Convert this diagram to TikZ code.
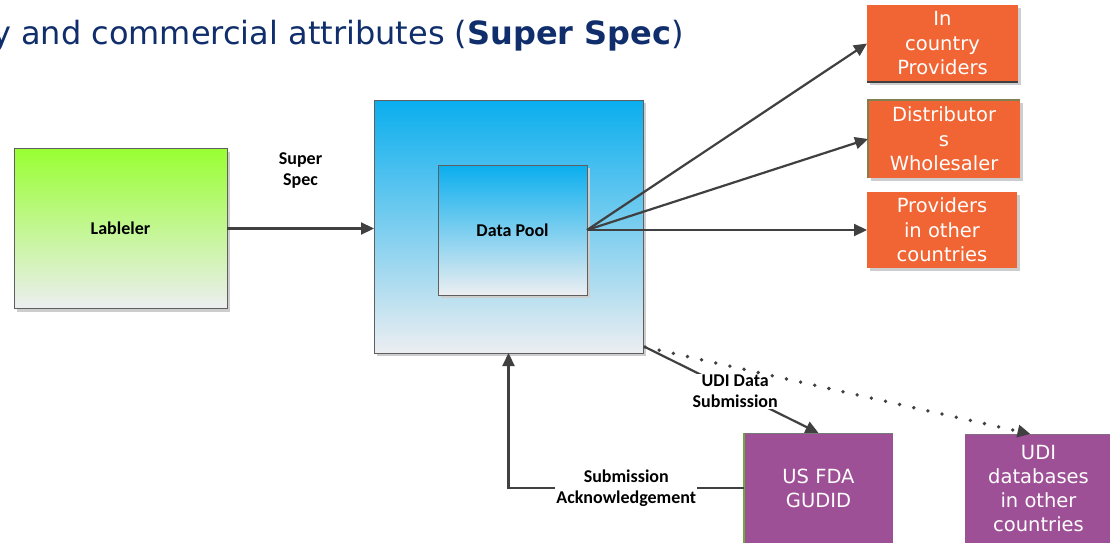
\documentclass[tikz,border=0pt]{standalone}
\usepackage{fontspec}
\setmainfont{Carlito}
\newfontfamily\verd{DejaVu Sans}
\usetikzlibrary{arrows.meta,shadows,calc}
\definecolor{linec}{RGB}{64,64,64}
\definecolor{edgec}{RGB}{95,95,95}
\definecolor{titlec}{RGB}{16,46,107}
\definecolor{orangec}{RGB}{241,101,52}
\definecolor{purplec}{RGB}{158,80,150}
\definecolor{greentop}{RGB}{153,255,51}
\definecolor{bluetop}{RGB}{10,174,238}
\definecolor{paleend}{RGB}{236,238,241}
\definecolor{shadowc}{RGB}{205,205,205}
\definecolor{olivec}{RGB}{128,128,80}
\definecolor{leafc}{RGB}{110,170,60}
\definecolor{greyc}{RGB}{120,120,120}
\tikzset{
  boxbase/.style={rectangle, inner sep=0pt, outer sep=0pt, align=center},
  sh/.style={drop shadow={shadow xshift=3pt, shadow yshift=-3pt, fill=shadowc, opacity=1}},
  lblr/.style={boxbase, draw=edgec, line width=0.8pt, sh, top color=greentop, bottom color=paleend,
    font=\fontsize{18}{21}\selectfont\bfseries},
  poolbox/.style={boxbase, draw=edgec, line width=0.8pt, sh, top color=bluetop, bottom color=paleend,
    font=\fontsize{18}{21}\selectfont\bfseries},
  orbox/.style={boxbase, fill=orangec, sh, text=white, font=\verd\fontsize{19.5}{24.5}\selectfont},
  pubox/.style={boxbase, fill=purplec, text=white, font=\verd\fontsize{19.5}{24}\selectfont},
  lbl/.style={align=center, inner sep=1pt, font=\fontsize{18}{21}\selectfont\bfseries},
  arr/.style={draw=linec, line width=2.2pt, -{Triangle[length=13pt,width=12pt]}},
  dotarr/.style={draw=linec, line width=3.8pt, line cap=round, dash pattern=on 0pt off 14.5pt,
    -{Triangle[length=13pt,width=12pt]}},
}
\begin{document}
\begin{tikzpicture}[x=1pt,y=-1pt]
\useasboundingbox (0,0) rectangle (1110,543);
\fill[white] (0,0) rectangle (1110,543);
\clip (0,0) rectangle (1110,543);

% heading, cut at the left border
\node[anchor=base east, inner sep=0pt, text=titlec, font=\verd\fontsize{32}{34}\selectfont]
  (title) at (684,44.5) {y and commercial attributes (\textbf{Super Spec})};

% main boxes
\node[lblr, minimum width=213pt, minimum height=160pt] (lab) at (120.5,228.5) {Lableler};
\node[poolbox, minimum width=269pt, minimum height=253pt] (outer) at (508.5,226.5) {};
\node[poolbox, minimum width=149pt, minimum height=130pt] (dp) at (512.5,230) {Data Pool};

% receivers
\node[orbox, minimum width=151pt, minimum height=77pt] (o1) at (942.5,43.5) {In\\country\\Providers};
\node[orbox, minimum width=152pt, minimum height=78pt] (o2) at (944,139) {Distributor\\s\\Wholesaler};
\node[orbox, minimum width=150pt, minimum height=76pt] (o3) at (942,230) {Providers\\in other\\countries};
\draw[linec, line width=1.2pt] (o1.south west) -- (o1.south east);
\draw[olivec, line width=1.2pt] (o2.south west) -- (o2.north west) -- (o2.north east);

\node[pubox, minimum width=149pt, minimum height=110pt] (fda) at (818.5,488) {US FDA\\GUDID};
\node[pubox, minimum width=147pt, minimum height=109pt] (udi) at (1038.5,488.5) {UDI\\databases\\in other\\countries};
\draw[leafc, line width=1.2pt] (fda.south west) -- (fda.north west);
\draw[greyc, line width=0.8pt] (fda.north west) -- (fda.north east);
\draw[greyc, line width=0.6pt, densely dotted] (udi.north west) -- (udi.north east);

% connectors
\draw[arr] (lab.east) -- node[lbl, above=38pt] (ss) {Super\\Spec} (lab.east -| outer.west);
\draw[arr] (dp.east) -- (o1.west);
\draw[arr] (dp.east) -- (o2.west);
\draw[arr] (dp.east) -- (o3.west);

\coordinate (ds) at ($(outer.south east)+(2,-6)$);
\draw[arr] (ds) -- node[lbl, pos=0.52, fill=white] (udil) {UDI Data\\Submission} (fda.north);
\draw[dotarr] (ds) -- ($(udi.north)+(-8,0)$);

\draw[arr] (fda.west) -| node[lbl, pos=0.25, fill=white] (ack) {Submission\\Acknowledgement} (outer.south);
\end{tikzpicture}
\end{document}
